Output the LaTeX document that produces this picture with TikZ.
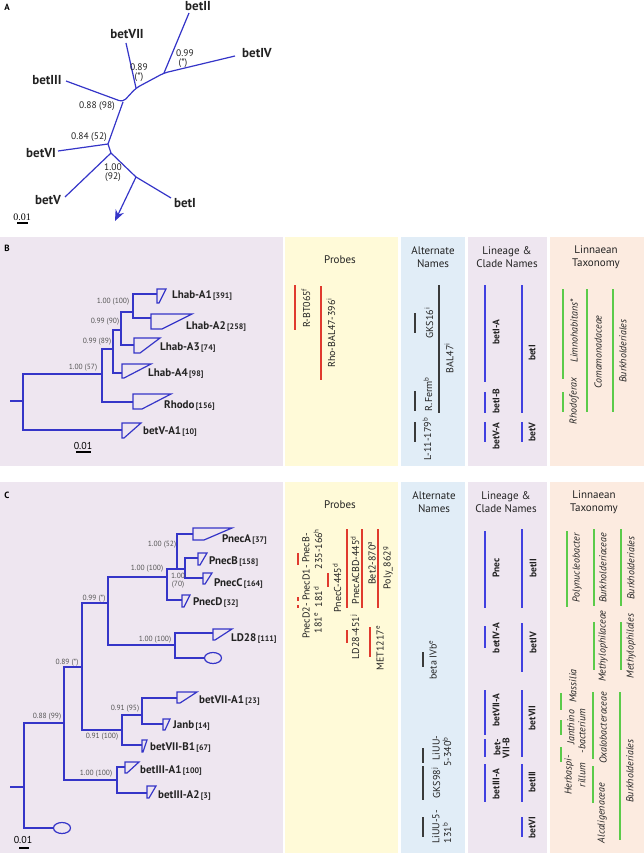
\documentclass[tikz,border=0pt]{standalone}
\usepackage{fontspec}
\setmainfont{PT Sans}
\newfontfamily\serifA{Liberation Serif}
\usetikzlibrary{arrows.meta,shapes.geometric}
\definecolor{bgpur}{HTML}{EEE6F0}
\definecolor{bgyel}{HTML}{FFFAD8}
\definecolor{bgblu}{HTML}{E1EDF7}
\definecolor{bgsal}{HTML}{FCEBE0}
\definecolor{treeblue}{HTML}{3535C8}
\definecolor{linblue}{HTML}{4040E0}
\definecolor{probered}{HTML}{E03A2E}
\definecolor{taxgreen}{HTML}{5BCB4A}
\definecolor{barblack}{HTML}{3A3A3A}
\definecolor{suppgray}{HTML}{555555}
\definecolor{txtdark}{HTML}{222222}
\newcommand{\cladeTri}[5]{\draw[tree] (#1,#2) -- (#4,#2) -- (#5,#3) -- (#1,#3) -- cycle;}
\newcommand{\nb}[1]{{\fontsize{8}{9}\selectfont\,[#1]}}
\tikzset{
 tree/.style={draw=treeblue,line width=1.2pt,line join=miter},
 rtxt/.style={rotate=90,inner sep=0pt,anchor=center,text=txtdark},
 prb/.style={rtxt,font=\fontsize{10}{11}\selectfont},
 lin/.style={rtxt,font=\bfseries\fontsize{9.5}{10}\selectfont},
 tax/.style={rtxt,font=\itshape\fontsize{10}{11}\selectfont},
 redbar/.style={draw=probered,line width=1.4pt},
 blkbar/.style={draw=barblack,line width=1.4pt},
 bluebar/.style={draw=linblue,line width=1.4pt},
 grnbar/.style={draw=taxgreen,line width=1.4pt},
 supp/.style={font=\fontsize{7.5}{8.5}\selectfont,text=suppgray,inner sep=0pt},
 suppA/.style={font=\fontsize{9.5}{10}\selectfont,text=txtdark,inner sep=0pt},
 clbl/.style={anchor=west,inner sep=0pt,text=txtdark,font=\bfseries\fontsize{11}{12}\selectfont},
 albl/.style={inner sep=0pt,text=txtdark,font=\bfseries\fontsize{13}{14}\selectfont},
 hdr/.style={align=center,inner sep=0pt,text=txtdark,font=\fontsize{11}{13}\selectfont},
 plbl/.style={inner sep=0pt,anchor=center,font=\bfseries\fontsize{9}{10}\selectfont},
}
\begin{document}
\begin{tikzpicture}[x=1pt,y=-1pt]
\useasboundingbox (0,0) rectangle (644,853);
% ---------- backgrounds
\foreach \ya/\yb in {237/466,482/853}{
 \fill[bgpur] (0,\ya) rectangle (283,\yb);
 \fill[bgyel] (285,\ya) rectangle (398,\yb);
 \fill[bgblu] (401,\ya) rectangle (465,\yb);
 \fill[bgpur] (468,\ya) rectangle (547,\yb);
 \fill[bgsal] (550,\ya) rectangle (644,\yb);
}
% ---------- panel A
\node[plbl] (labA) at (7,7) {A};
\coordinate (aJ1) at (136,88);
\coordinate (aJ2) at (164,73);
\coordinate (aJ3) at (123,102);
\coordinate (aJ4) at (108,144);
\coordinate (aJ5) at (111,153);
\coordinate (aJ6) at (136,177);
\coordinate (aII) at (189,13);
\coordinate (aIV) at (235,56);
\coordinate (aVII) at (126,43);
\coordinate (aIII) at (66,81);
\coordinate (aVI) at (58,151);
\coordinate (aV) at (65,197);
\coordinate (aI) at (171,198);
\coordinate (aArr) at (115,221);
\draw[tree,rounded corners=4pt] (aIII) -- (aJ3) -- (aJ1) -- (aJ2) -- (aIV);
\draw[tree] (aJ1) -- (aVII) (aJ2) -- (aII) (aJ3) -- (aJ4) -- (aVI) (aJ4) -- (aJ5) -- (aV) (aJ5) -- (aJ6) -- (aI);
\draw[tree,-{Stealth[length=11pt,width=9pt]}] (aJ6) -- (aArr);
\node[albl] (nII) at (198,6) {betII};
\node[albl] (nIV) at (257,53) {betIV};
\node[albl] (nVII) at (127,34) {betVII};
\node[albl] (nIII) at (47,80) {betIII};
\node[albl] (nVI) at (41,153) {betVI};
\node[albl] (nV) at (48,200) {betV};
\node[albl] (nI) at (185,203) {betI};
\node[suppA] (sA1) at (139,67) {0.89};
\node[suppA] (sA1b) at (139,77) {(*)};
\node[suppA] (sA2) at (185,53) {0.99};
\node[suppA] (sA2b) at (183,63) {(*)};
\node[suppA] (sA3) at (97,106) {0.88 (98)};
\node[suppA] (sA4) at (89,137) {0.84 (52)};
\node[suppA] (sA5) at (113,167) {1.00};
\node[suppA] (sA5b) at (113,177) {(92)};
\node[inner sep=0pt,font=\serifA\fontsize{10}{11}\selectfont] (scA) at (22,217) {0.01};
\draw[line width=1.2pt] (17,223) -- (28,223);
% ---------- panel B
\node[plbl] (labB) at (7,248) {B};
\node[hdr] (hB1) at (340,260) {Probes};
\node[hdr] (hB2) at (433,257) {Alternate\\Names};
\node[hdr] (hB3) at (507,257) {Lineage \&\\Clade Names};
\node[hdr] (hB4) at (596,257) {Linnaean\\Taxonomy};
\coordinate (bR0) at (10,401);
\coordinate (bR) at (23,401);
\coordinate (bN1) at (102,374);
\coordinate (bN2) at (113,349);
\coordinate (bN3) at (121,330);
\coordinate (bN4) at (133,312);
\coordinate (bA1) at (157,294);
\coordinate (bA2) at (151,318);
\coordinate (bA3) at (134,345);
\coordinate (bA4) at (122,373);
\coordinate (bRh) at (133,402);
\coordinate (bV) at (122,430);
\draw[tree] (bR0) -- (bR) (bR) |- (bN1) (bR) |- (bV) (bN1) |- (bN2) (bN1) |- (bRh)
 (bN2) |- (bN3) (bN2) |- (bA4) (bN3) |- (bN4) (bN3) |- (bA3) (bN4) |- (bA1) (bN4) |- (bA2);
\cladeTri{157}{289}{303}{166}{159}
\cladeTri{151}{314}{329}{192}{162}
\cladeTri{134}{338}{353}{160}{140}
\cladeTri{122}{364}{378}{151}{124}
\cladeTri{133}{394}{409}{171}{142}
\cladeTri{122}{423}{438}{141}{124}
\node[clbl] (lA1) at (172,296) {Lhab-A1\nb{391}};
\node[clbl] (lA2) at (186,326) {Lhab-A2\nb{258}};
\node[clbl] (lA3) at (160,348) {Lhab-A3\nb{74}};
\node[clbl] (lA4) at (148,374) {Lhab-A4\nb{98}};
\node[clbl] (lRh) at (164,406) {Rhodo\nb{156}};
\node[clbl] (lVA) at (143,432) {betV-A1\nb{10}};
\node[supp] (sB1) at (113,302) {1.00 (100)};
\node[supp] (sB2) at (105,322) {0.99 (90)};
\node[supp] (sB3) at (97,342) {0.99 (89)};
\node[supp] (sB4) at (83,368) {1.00 (57)};
\node[inner sep=0pt,font=\fontsize{10}{11}\selectfont] (scB) at (83,446) {0.01};
\draw[line width=1.2pt] (76,452) -- (91,452);
% probes B
\draw[redbar] (295,285) -- (295,330);
\node[prb] (pB1) at (306,308) {R-BT065\textsuperscript{f}};
\draw[redbar] (321,286) -- (321,380);
\node[prb] (pB2) at (331,333) {Rho-BAL47-396\textsuperscript{i}};
% alternate B
\draw[blkbar] (415,313) -- (415,333);
\node[prb] (aB1) at (429,323) {GKS16\textsuperscript{i}};
\draw[blkbar] (439,285) -- (439,413);
\node[prb] (aB2) at (449,358) {BAL47\textsuperscript{i}};
\draw[blkbar] (415,391) -- (415,411);
\node[prb] (aB3) at (428,394) {R.Ferm\textsuperscript{b}};
\draw[blkbar] (415,422) -- (415,442);
\node[prb] (aB4) at (427,439) {L-11-179\textsuperscript{b}};
% lineage B
\draw[bluebar] (485,285) -- (485,382);
\node[lin] (gB1) at (496,332) {betI-A};
\draw[bluebar] (485,392) -- (485,413);
\node[lin] (gB2) at (496,401) {betI-B};
\draw[bluebar] (485,422) -- (485,442);
\node[lin] (gB3) at (496,436) {betV-A};
\draw[bluebar] (522,285) -- (522,413);
\node[lin] (gB4) at (532,353) {betI};
\draw[bluebar] (522,422) -- (522,442);
\node[lin] (gB5) at (532,432) {betV};
% taxonomy B
\draw[grnbar] (563,289) -- (563,379);
\node[tax] (tB1) at (574,331) {Limnohabitans*};
\draw[grnbar] (563,392) -- (563,412);
\node[tax] (tB2) at (574,401) {Rhodoferax};
\draw[grnbar] (587,289) -- (587,412);
\node[tax] (tB3) at (598,352) {Comamonadaceae};
\draw[grnbar] (613,289) -- (613,412);
\node[tax] (tB4) at (623,351) {Burkholderiales};
% ---------- panel C
\node[plbl] (labC) at (7,495) {C};
\node[hdr] (hC1) at (340,505) {Probes};
\node[hdr] (hC2) at (434,502) {Alternate\\Names};
\node[hdr] (hC3) at (506,502) {Lineage \&\\Clade Names};
\node[hdr] (hC4) at (594,502) {Linnaean\\Taxonomy};
\coordinate (cR0) at (10,787);
\coordinate (cR) at (24,787);
\coordinate (cN1) at (64,723);
\coordinate (cN2) at (82,667);
\coordinate (cN3) at (108,603);
\coordinate (cN4) at (167,577);
\coordinate (cN5) at (177,569);
\coordinate (cN6) at (185,569);
\coordinate (cN7) at (175,645);
\coordinate (cN8) at (122,730);
\coordinate (cN9) at (142,715);
\coordinate (cN10) at (117,780);
\coordinate (cPA) at (193,534);
\coordinate (cPB) at (198,558);
\coordinate (cPC) at (203,578);
\coordinate (cPD) at (182,600);
\coordinate (cLD) at (213,633);
\coordinate (cV7A) at (177,698);
\coordinate (cJ) at (163,724);
\coordinate (cV7B) at (142,745);
\coordinate (cIII1) at (125,767);
\coordinate (cIII2) at (147,793);
\node[ellipse,draw=treeblue,line width=1.2pt,minimum width=17pt,minimum height=11pt,inner sep=0pt] (cLDe) at (213,658) {};
\node[ellipse,draw=treeblue,line width=1.2pt,minimum width=17pt,minimum height=11pt,inner sep=0pt] (cOg) at (62,828) {};
\draw[tree] (cR0) -- (cR) (cR) |- (cN1) (cR) |- (cOg.west)
 (cN1) |- (cN2) (cN1) |- (cN10) (cN2) |- (cN3) (cN2) |- (cN8)
 (cN3) |- (cN4) (cN3) |- (cN7) (cN4) |- (cN5) (cN4) |- (cPD)
 (cN5) |- (cPA) (cN5) -- (cN6) (cN6) |- (cPB) (cN6) |- (cPC)
 (cN7) |- (cLD) (cN7) |- (cLDe.west) (cN8) |- (cN9) (cN8) |- (cV7B)
 (cN9) |- (cV7A) (cN9) |- (cJ) (cN10) |- (cIII1) (cN10) |- (cIII2);
\cladeTri{193}{528}{540}{232}{204}
\cladeTri{198}{553}{565}{207}{200}
\cladeTri{203}{573}{584}{212}{205}
\cladeTri{182}{595}{607}{190}{184}
\cladeTri{213}{629}{640}{232}{215}
\cladeTri{177}{692}{703}{197}{180}
\cladeTri{163}{719}{730}{170}{165}
\cladeTri{142}{740}{752}{147}{143}
\cladeTri{125}{762}{773}{139}{127}
\cladeTri{147}{786}{798}{156}{149}
\node[clbl] (lPA) at (222,540) {PnecA\nb{37}};
\node[clbl] (lPB) at (209,562) {PnecB\nb{158}};
\node[clbl] (lPC) at (214,583) {PnecC\nb{164}};
\node[clbl] (lPD) at (193,603) {PnecD\nb{32}};
\node[clbl] (lLD) at (231,638) {LD28\nb{111}};
\node[clbl] (lV7A) at (199,700) {betVII-A1\nb{23}};
\node[clbl] (lJ) at (173,726) {Janb\nb{14}};
\node[clbl] (lV7B) at (150,747) {betVII-B1\nb{67}};
\node[clbl] (lIII1) at (140,770) {betIII-A1\nb{100}};
\node[clbl] (lIII2) at (158,795) {betIII-A2\nb{3}};
\node[supp] (sC1) at (162,545) {1.00 (52)};
\node[supp] (sC2) at (147,569) {1.00 (100)};
\node[supp] (sC3) at (178,576) {1.00};
\node[supp] (sC3b) at (178,585) {(70)};
\node[supp] (sC4) at (94,599) {0.99 (*)};
\node[supp] (sC5) at (155,640) {1.00 (100)};
\node[supp] (sC6) at (67,663) {0.89 (*)};
\node[supp] (sC7) at (125,709) {0.91 (95)};
\node[supp] (sC8) at (102,737) {0.91 (100)};
\node[supp] (sC9) at (96,774) {1.00 (100)};
\node[supp] (sC10) at (47,717) {0.88 (99)};
\node[inner sep=0pt,font=\fontsize{10}{11}\selectfont] (scC) at (23,840) {0.01};
\draw[line width=1.2pt] (19,848) -- (29,848);
% probes C
\draw[redbar] (298,553) -- (298,565);
\draw[redbar] (298,597) -- (298,601);
\draw[redbar] (298,605) -- (298,608);
\node[prb] (pC1) at (306,548) {PnecB-};
\node[prb] (pC2) at (318,549) {235-166\textsuperscript{h}};
\node[prb] (pC3) at (306,583) {PnecD1-};
\node[prb] (pC4) at (318,597) {181\textsuperscript{d}};
\node[prb] (pC5) at (306,621) {PnecD2-};
\node[prb] (pC6) at (318,623) {181\textsuperscript{e}};
\draw[redbar] (328,573) -- (328,587);
\node[prb] (pC7) at (337,588) {PnecC-445\textsuperscript{d}};
\draw[redbar] (347,529) -- (347,608);
\node[prb] (pC8) at (355,570) {PnecACBD-445\textsuperscript{d}};
\draw[redbar] (347,630) -- (347,643);
\node[prb] (pC9) at (355,637) {LD28-451\textsuperscript{j}};
\draw[redbar] (362,529) -- (362,608);
\node[prb] (pC10) at (372,563) {Bet2-870\textsuperscript{a}};
\draw[redbar] (370,627) -- (370,657);
\node[prb] (pC11) at (380,648) {MET1217\textsuperscript{e}};
\draw[redbar] (378,529) -- (378,608);
\node[prb] (pC12) at (388,568) {Poly\_862\textsuperscript{g}};
% alternate C
\draw[blkbar] (423,652) -- (423,667);
\node[prb] (aC1) at (433,660) {beta IVb\textsuperscript{e}};
\draw[blkbar] (423,748) -- (423,763);
\node[prb] (aC2) at (436,748) {LiUU-};
\node[prb] (aC3) at (447,752) {5-340\textsuperscript{b}};
\draw[blkbar] (423,766) -- (423,800);
\node[prb] (aC4) at (436,783) {GKS98\textsuperscript{j}};
\draw[blkbar] (423,817) -- (423,837);
\node[prb] (aC5) at (436,827) {LiUU-5-};
\node[prb] (aC6) at (447,833) {131\textsuperscript{b}};
% lineage C
\draw[bluebar] (485,531) -- (485,608);
\node[lin] (gC1) at (496,568) {Pnec};
\draw[bluebar] (522,529) -- (522,608);
\node[lin] (gC2) at (533,568) {betII};
\draw[bluebar] (485,626) -- (485,648);
\node[lin] (gC3) at (496,638) {betIV-A};
\draw[bluebar] (522,623) -- (522,672);
\node[lin] (gC4) at (533,643) {betIV};
\draw[bluebar] (485,690) -- (485,735);
\node[lin] (gC5) at (496,710) {betVII-A};
\draw[bluebar] (485,739) -- (485,757);
\node[lin] (gC6) at (497,747) {bet-};
\node[lin] (gC7) at (506,748) {VII-B};
\draw[bluebar] (485,764) -- (485,802);
\node[lin] (gC8) at (496,784) {betIII-A};
\draw[bluebar] (522,690) -- (522,757);
\node[lin] (gC9) at (532,718) {betVII};
\draw[bluebar] (522,764) -- (522,802);
\node[lin] (gC10) at (532,782) {betIII};
\draw[bluebar] (522,817) -- (522,837);
\node[lin] (gC11) at (532,828) {betVI};
% taxonomy C
\draw[grnbar] (567,531) -- (567,607);
\node[tax] (tC1) at (577,568) {Polynucleobacter};
\draw[grnbar] (594,529) -- (594,606);
\node[tax] (tC2) at (603,568) {Burkholderiaceae};
\draw[grnbar] (621,529) -- (621,606);
\node[tax] (tC3) at (631,568) {Burkholderiales};
\draw[grnbar] (594,622) -- (594,670);
\node[tax] (tC4) at (603,646) {Methylophilaceae};
\draw[grnbar] (621,622) -- (621,670);
\node[tax] (tC5) at (631,646) {Methylophilales};
\draw[grnbar] (561,693) -- (561,710);
\node[tax] (tC6) at (573,686) {Massilia};
\draw[grnbar] (561,720) -- (561,735);
\node[tax] (tC7) at (571,727) {Janthino};
\node[tax] (tC8) at (582,731) {-bacterium};
\draw[grnbar] (561,747) -- (561,762);
\node[tax] (tC9) at (569,775) {Herbaspi-};
\node[tax] (tC10) at (582,775) {rillum};
\draw[grnbar] (593,692) -- (593,759);
\node[tax] (tC11) at (603,728) {Oxalobacteraceae};
\draw[grnbar] (593,766) -- (593,803);
\node[tax] (tC12) at (602,813) {Alcaligenaceae};
\draw[grnbar] (620,692) -- (620,840);
\node[tax] (tC13) at (630,771) {Burkholderiales};
\end{tikzpicture}
\end{document}
